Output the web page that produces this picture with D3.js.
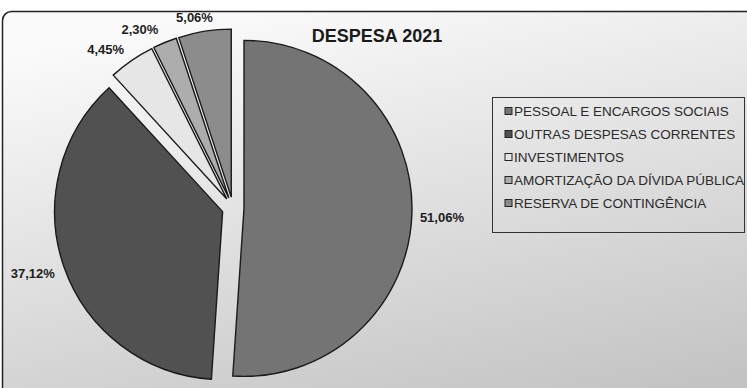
<!DOCTYPE html>
<html>
<head>
<meta charset="utf-8">
<script src="https://cdn.jsdelivr.net/npm/d3@7"></script>
<style>
  html, body { margin: 0; padding: 0; background: #ffffff; }
  svg { display: block; }
  text { font-family: "Liberation Sans", Arial, sans-serif; }
</style>
</head>
<body>
<svg id="chart" width="747" height="388"></svg>
<script>
const title = "DESPESA 2021";
const categories = [
  "PESSOAL E ENCARGOS SOCIAIS",
  "OUTRAS DESPESAS CORRENTES",
  "INVESTIMENTOS",
  "AMORTIZAÇÃO DA DÍVIDA PÚBLICA",
  "RESERVA DE CONTINGÊNCIA"
];
const values = [51.06, 37.12, 4.45, 2.30, 5.06];
const valueLabels = ["51,06%", "37,12%", "4,45%", "2,30%", "5,06%"];
const sliceColors = ["#747474", "#515151", "#e6e6e6", "#adadad", "#8c8c8c"];

const W = 747, H = 388;
const svg = d3.select("#chart");

// background gradient
const defs = svg.append("defs");
const grad = defs.append("linearGradient").attr("id", "bg")
  .attr("x1", "0.3").attr("y1", "0").attr("x2", "0.7").attr("y2", "1");
grad.append("stop").attr("offset", "0").attr("stop-color", "#fafafa");
grad.append("stop").attr("offset", "0.45").attr("stop-color", "#e2e2e2");
grad.append("stop").attr("offset", "1").attr("stop-color", "#c4c4c4");

svg.append("rect")
  .attr("x", 2.5).attr("y", 11.5).attr("width", 770).attr("height", 400)
  .attr("rx", 9).attr("ry", 9)
  .attr("fill", "url(#bg)")
  .attr("stroke", "#222").attr("stroke-width", 1.5);

// title
svg.append("text")
  .attr("x", 377).attr("y", 42)
  .attr("text-anchor", "middle")
  .attr("font-size", 18).attr("font-weight", "bold")
  .attr("fill", "#1a1a1a")
  .text(title);

// pie
const cx = 233, cy = 208, r = 168, explode = 11;
const color = d3.scaleOrdinal().domain(categories).range(sliceColors);
const pie = d3.pie().sort(null).value(d => d.value);
const arc = d3.arc().innerRadius(0).outerRadius(r);
const data = categories.map((c, i) => ({ cat: c, value: values[i], label: valueLabels[i] }));
const arcs = pie(data);

const g = svg.append("g").attr("transform", `translate(${cx},${cy})`);

arcs.forEach(a => {
  const mid = (a.startAngle + a.endAngle) / 2;
  a.dx = explode * Math.sin(mid);
  a.dy = -explode * Math.cos(mid);
  a.mid = mid;
});

g.selectAll("path.slice")
  .data(arcs)
  .join("path")
  .attr("class", "slice")
  .attr("transform", d => `translate(${d.dx},${d.dy})`)
  .attr("d", arc)
  .attr("fill", d => color(d.data.cat))
  .attr("stroke", "#1a1a1a")
  .attr("stroke-width", 1.4)
  .attr("stroke-linejoin", "miter");

// labels placed outside the end of each slice (small layout nudges per label)
const fs = 13, halfH = 6.5;
const labelNudge = [[0, 3], [-3, 1], [-11, 1], [-15, 0], [-6, 1]];
g.selectAll("text.lbl")
  .data(arcs)
  .join("text")
  .attr("class", "lbl")
  .attr("font-size", fs).attr("font-weight", "bold")
  .attr("fill", "#1e1e1e")
  .attr("text-anchor", "middle")
  .attr("dominant-baseline", "central")
  .text(d => d.data.label)
  .each(function (d, i) {
    const w = this.getComputedTextLength();
    const sx = Math.sin(d.mid), sy = -Math.cos(d.mid);
    const rr = r + 8;
    const x = d.dx + sx * rr + sx * w / 2 + labelNudge[i][0];
    const y = d.dy + sy * rr + sy * halfH + labelNudge[i][1];
    d3.select(this).attr("x", x).attr("y", y);
  });

// legend
const lg = svg.append("g");
lg.append("rect")
  .attr("x", 492.5).attr("y", 97.5).attr("width", 252).attr("height", 135)
  .attr("fill", "none").attr("stroke", "#333").attr("stroke-width", 1);

const ly = d3.scalePoint().domain(categories).range([111, 203]);
const items = lg.selectAll("g.item").data(categories).join("g").attr("class", "item")
  .attr("transform", d => `translate(505,${ly(d)})`);
items.append("rect")
  .attr("x", 0).attr("y", -3.5).attr("width", 7).attr("height", 7)
  .attr("fill", d => color(d)).attr("stroke", "#222").attr("stroke-width", 1);
items.append("text")
  .attr("x", 9).attr("y", 0)
  .attr("dominant-baseline", "central")
  .attr("font-size", 13.5)
  .attr("fill", "#2a2a2a")
  .text(d => d);
</script>
</body>
</html>
